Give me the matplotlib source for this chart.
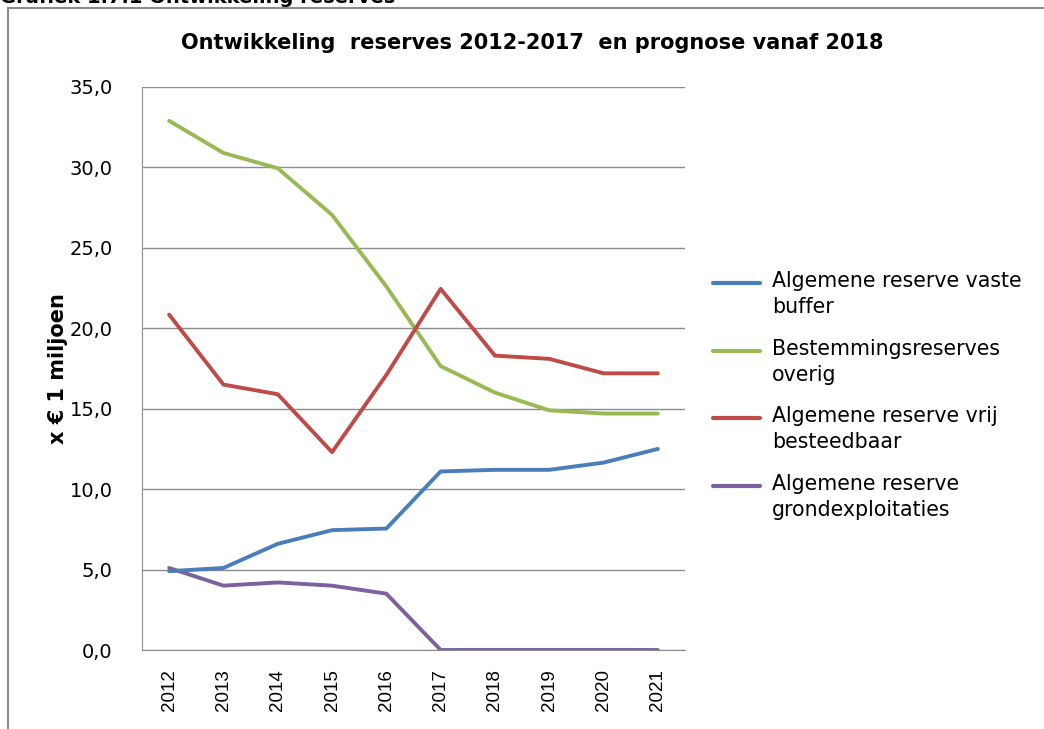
import matplotlib.pyplot as plt
from matplotlib.lines import Line2D

jaren = ['2012', '2013', '2014', '2015', '2016', '2017', '2018', '2019', '2020', '2021']
vaste_buffer = [4.9, 5.1, 6.6, 7.45, 7.55, 11.1, 11.2, 11.2, 11.65, 12.5]
bestemming = [32.9, 30.9, 29.95, 27.05, 22.6, 17.65, 16.0, 14.9, 14.7, 14.7]
vrij_besteedbaar = [20.85, 16.5, 15.9, 12.3, 17.1, 22.45, 18.3, 18.1, 17.2, 17.2]
grondexploitaties = [5.1, 4.0, 4.2, 4.0, 3.5, 0.0, 0.0, 0.0, 0.0, 0.0]

labels = ['Algemene reserve vaste\nbuffer', 'Bestemmingsreserves\noverig',
          'Algemene reserve vrij\nbesteedbaar', 'Algemene reserve\ngrondexploitaties']
kleuren = ['#4A7EBB', '#98B954', '#BE4B48', '#7D60A0']

W, H = 1044, 729
fig = plt.figure(figsize=(W / 100, H / 100), dpi=100)
ax = fig.add_axes([142 / W, 1 - 650 / H, 543 / W, 563 / H])

x = range(len(jaren))
series = [vaste_buffer, bestemming, vrij_besteedbaar, grondexploitaties]
# paars eerst tekenen zodat blauw eroverheen ligt bij 2012
for i in [3, 1, 2, 0]:
    ax.plot(x, series[i], color=kleuren[i], linewidth=2.8, solid_capstyle='round',
            solid_joinstyle='round', zorder=3)

ax.set_xlim(-0.5, len(jaren) - 0.5)
ax.set_ylim(0, 35)
ax.set_yticks(range(0, 36, 5))
ax.set_yticklabels(['%d,0' % v for v in range(0, 36, 5)], fontsize=14)
ax.set_xticks(list(x))
ax.set_xticklabels(jaren, rotation=90, fontsize=13.5, family='Liberation Sans')
ax.tick_params(axis='x', length=0, pad=14)
ax.tick_params(axis='y', length=0, pad=21)
ax.yaxis.grid(True, color='#8c8c8c', linewidth=1)
ax.set_axisbelow(True)
for s in ['top', 'right']:
    ax.spines[s].set_visible(False)
for s in ['left', 'bottom']:
    ax.spines[s].set_color('#8c8c8c')
ax.set_ylabel('x € 1 miljoen', fontsize=15, fontweight='bold', labelpad=1)

fig.text(532 / W, 1 - 43 / H, 'Ontwikkeling  reserves 2012-2017  en prognose vanaf 2018',
         ha='center', va='center', fontsize=15, fontweight='bold')
fig.text(0.0, 1 - 3 / H, 'Grafiek 1.7.1 Ontwikkeling reserves', ha='left', va='baseline',
         fontsize=14, fontweight='bold')

# kader
fig.add_artist(Line2D([8 / W, 8 / W], [0.0, 1 - 8 / H], color='#8c8c8c', linewidth=1.5))
fig.add_artist(Line2D([8 / W, 1.0], [1 - 8 / H, 1 - 8 / H], color='#8c8c8c', linewidth=1.5))

# legenda: lijn op hoogte van de eerste tekstregel
rij_y = [283, 351, 418, 486]
for kleur, label, ry in zip(kleuren, labels, rij_y):
    fig.add_artist(Line2D([713 / W, 760 / W], [1 - ry / H, 1 - ry / H], color=kleur,
                          linewidth=3, solid_capstyle='round'))
    fig.text(772 / W, 1 - (ry - 12) / H, label, ha='left', va='top', fontsize=14.8,
             linespacing=1.35)

fig.savefig('out.png', dpi=100, facecolor='white')
